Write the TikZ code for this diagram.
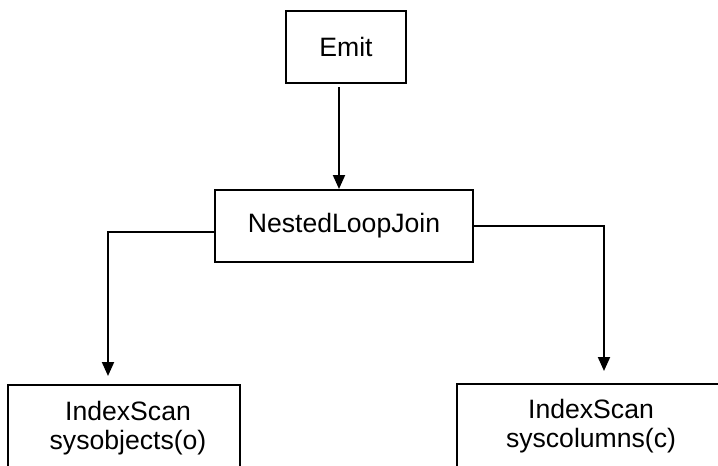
\documentclass[tikz,border=0pt]{standalone}
\usepackage{fontspec}
\setmainfont{Liberation Sans}
\usetikzlibrary{arrows.meta}

\begin{document}
\begin{tikzpicture}[x=0.5pt,y=-0.5pt,
  font=\fontsize{13.3}{14.5}\selectfont,
  op/.style={draw,line width=1pt,minimum height=36pt,inner sep=0pt},
  scan/.style={draw,line width=1pt,minimum height=60pt,anchor=north},
  flow/.style={line width=1pt,-{Triangle[width=6pt,length=7pt]}}]
  \clip (0,0) rectangle (718,466);
  \node[op,minimum width=60pt] (emit) at (346,47) {Emit};
  \node[op,minimum width=129pt] (join) at (344,226) {NestedLoopJoin};
  \node[scan,minimum width=116pt] (objs) at (124,384) {};
  \node[scan,minimum width=141.5pt] (cols) at (598,383) {};
  \node[align=center] (objslabel) at (128,428) {IndexScan\\sysobjects(o)};
  \node[align=center] (colslabel) at (591,426) {IndexScan\\syscolumns(c)};
  \draw[flow,shorten <=1.5pt] (emit.south -| 339,0) -- (join.north -| 339,0);
  \draw[flow,shorten >=4pt] (join.west |- 0,232) -| (objs.north -| 108,0);
  \draw[flow,shorten >=6pt] (join.east |- 0,226) -| (cols.north -| 604,0);
\end{tikzpicture}
\end{document}
